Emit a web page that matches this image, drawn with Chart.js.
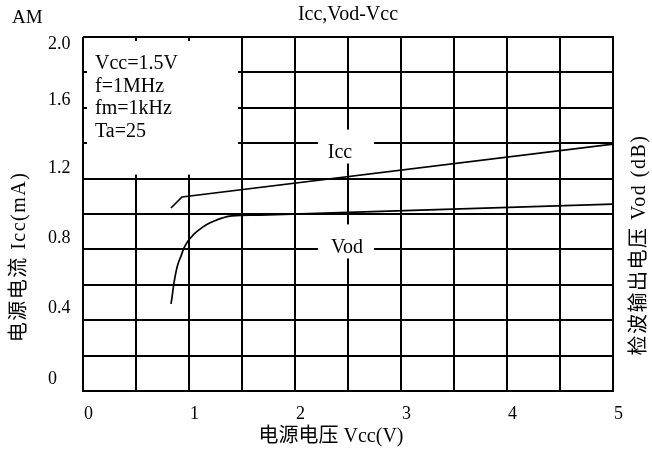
<!DOCTYPE html>
<html>
<head>
<meta charset="utf-8">
<script src="https://cdn.jsdelivr.net/npm/chart.js@4.4.0/dist/chart.umd.min.js"></script>
<style>
html, body { margin: 0; padding: 0; background: #fff; }
#wrap { width: 652px; height: 457px; }
</style>
</head>
<body>
<div id="wrap"><canvas id="myChart"></canvas></div>
<script>
// values (Vcc in V on the grid scale)
const iccVcc = [0.83, 0.934, 5.0];
const icc = [1.034, 1.096, 1.395];
const vodVcc = [0.83, 0.84, 0.849, 0.858, 0.877, 0.896, 0.925, 0.953, 0.991, 1.038, 1.094, 1.16, 1.236, 1.311, 1.406, 1.67, 5.0];
const vod = [0.492, 0.531, 0.571, 0.61, 0.672, 0.718, 0.763, 0.808, 0.847, 0.881, 0.91, 0.938, 0.96, 0.977, 0.989, 0.994, 1.056];

const yTickLabels = ['0', '0.4', '0.8', '1.2', '1.6', '2.0'];
const yTickAt = [0.068, 0.469, 0.864, 1.26, 1.644, 1.96]; // the labels in the original sit off the grid lines
const noteLines = ['Vcc=1.5V', 'f=1MHz', 'fm=1kHz', 'Ta=25'];

const serif = '"Liberation Serif", "Noto Sans CJK SC", serif';
Chart.defaults.font.family = serif;
Chart.defaults.color = '#000';

const decor = {
  id: 'decor',
  beforeDatasetsDraw(chart) {
    const ctx = chart.ctx, x = chart.scales.x, y = chart.scales.yr;
    ctx.save();
    // conditions box, grid blanked out but short stubs left at the edges
    const l = x.getPixelForValue(0) + 4, r = x.getPixelForValue(1.5) - 4;
    const t = y.getPixelForValue(2.0) + 4, b = y.getPixelForValue(1.2) - 4;
    ctx.fillStyle = '#fff';
    ctx.fillRect(l, t, r - l, b - t);
    ctx.fillStyle = '#000';
    ctx.font = '20px ' + serif;
    ctx.textBaseline = 'middle';
    ctx.textAlign = 'left';
    noteLines.forEach((s, i) => ctx.fillText(s, l + 8, t + 23 + i * 22.5));

    // curve names
    [['Icc', 1.381, -6], ['Vod', 0.845, 1]].forEach(([name, v, dx]) => {
      const cx = x.getPixelForValue(2.5) - 2, cy = y.getPixelForValue(v);
      ctx.fillStyle = '#fff';
      ctx.fillRect(cx - 28, cy - 17, 56, 34);
      ctx.fillStyle = '#000';
      ctx.textAlign = 'center';
      ctx.fillText(name, cx + dx, cy + 6);
    });
    ctx.restore();
  },
  afterDraw(chart) {
    const ctx = chart.ctx;
    ctx.save();
    ctx.fillStyle = '#000';
    ctx.textBaseline = 'middle';
    ctx.font = '19px ' + serif;
    ctx.textAlign = 'left';
    ctx.fillText('AM', 12, 18);
    ctx.font = '20px ' + serif;
    ctx.textAlign = 'center';
    ctx.fillText('电源电压 Vcc(V)', 331, 437);
    ctx.letterSpacing = '1.5px';
    ctx.save();
    ctx.translate(20, 257);
    ctx.rotate(-Math.PI / 2);
    ctx.fillText('电源电流 Icc(mA)', 0, 0);
    ctx.restore();
    ctx.translate(640, 245);
    ctx.rotate(-Math.PI / 2);
    ctx.fillText('检波输出电压 Vod (dB)', 0, 0);
    ctx.restore();
  }
};

const ctx = document.getElementById('myChart').getContext('2d');
const myChart = new Chart(ctx, {
  type: 'line',
  data: {
    datasets: [{
      label: 'Icc',
      data: iccVcc.map((v, i) => ({ x: v, y: icc[i] })),
      borderColor: '#000',
      borderWidth: 1.7,
      pointRadius: 0,
      tension: 0,
      yAxisID: 'yr'
    }, {
      label: 'Vod',
      data: vodVcc.map((v, i) => ({ x: v, y: vod[i] })),
      borderColor: '#000',
      borderWidth: 1.7,
      pointRadius: 0,
      tension: 0.4,
      yAxisID: 'yr'
    }]
  },
  options: {
    responsive: true,
    maintainAspectRatio: false,
    animation: false,
    layout: { padding: { left: 48 } },
    plugins: {
      legend: { display: false },
      tooltip: { enabled: false },
      title: {
        display: true,
        text: 'Icc,Vod-Vcc',
        fullSize: false,
        font: { size: 20, weight: 'normal' },
        padding: { top: 3, bottom: 10 }
      }
    },
    scales: {
      x: {
        type: 'linear',
        min: 0,
        max: 5,
        grid: { color: '#000', lineWidth: 2, drawTicks: false },
        border: { color: '#000', width: 2 },
        ticks: {
          stepSize: 0.5,
          autoSkip: false,
          maxRotation: 0,
          labelOffset: 5.5,
          padding: 12,
          font: { size: 18 },
          callback: v => (v % 1 === 0 ? String(v) : '')
        },
        afterFit: s => { s.height = 66; }
      },
      y: {
        position: 'left',
        min: 0,
        max: 2,
        grid: { display: false },
        border: { display: false },
        ticks: {
          crossAlign: 'far',
          padding: 0,
          font: { size: 18 },
          callback: (v, i) => yTickLabels[i]
        },
        afterBuildTicks: s => { s.ticks = yTickAt.map(v => ({ value: v })); },
        afterFit: s => { s.width = 35; }
      },
      yr: {
        position: 'right',
        min: 0,
        max: 2,
        grid: { color: '#000', lineWidth: 2, drawTicks: false },
        border: { color: '#000', width: 2 },
        ticks: { display: false, stepSize: 0.2 },
        afterFit: s => { s.width = 39; }
      }
    }
  },
  plugins: [decor]
});
</script>
</body>
</html>
